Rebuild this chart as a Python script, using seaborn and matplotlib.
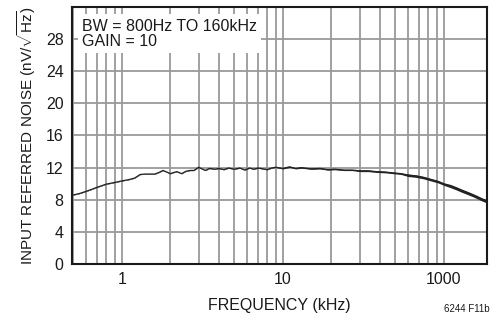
import numpy as np
import pandas as pd
import matplotlib
matplotlib.use("Agg")
import matplotlib.pyplot as plt
import seaborn as sns

sns.set_theme(style="white")
plt.rcParams["font.family"] = ["Liberation Sans Narrow", "Liberation Sans", "DejaVu Sans"]
plt.rcParams["mathtext.fontset"] = "custom"
plt.rcParams["mathtext.rm"] = "Liberation Sans"

# frequency (kHz) and input referred noise (nV/rtHz)
freq = [0.5, 0.55, 0.6, 0.65, 0.7, 0.75, 0.8, 0.85, 0.9, 0.95, 1.0, 1.1, 1.2, 1.3, 1.4,
        1.5, 1.6, 1.7, 1.8, 1.9, 2.0, 2.1, 2.2, 2.35, 2.5, 2.65, 2.8, 3.0, 3.1, 3.3,
        3.5, 3.8, 4.0, 4.3, 4.6, 5.0, 5.4, 5.8, 6.2, 6.6, 7.0, 7.5, 8.0, 8.5, 9.0,
        10, 11, 12, 13, 15, 17, 19, 21, 24, 27, 30, 34, 38, 43, 48, 54, 60, 67, 75,
        83, 92, 100, 110, 120, 130, 140, 150, 160, 172, 185]
noise = [8.6, 8.8, 9.05, 9.3, 9.55, 9.75, 9.95, 10.05, 10.15, 10.25, 10.35, 10.5, 10.7, 11.15, 11.2,
         11.2, 11.2, 11.4, 11.65, 11.45, 11.25, 11.4, 11.5, 11.25, 11.55, 11.65, 11.65, 12.05, 11.9, 11.65,
         11.9, 11.8, 11.9, 11.75, 11.95, 11.8, 11.95, 11.7, 11.95, 11.8, 11.95, 11.85, 11.75, 11.95, 12.05,
         11.9, 12.1, 11.9, 12.0, 11.85, 11.9, 11.75, 11.8, 11.7, 11.7, 11.6, 11.6, 11.5, 11.45, 11.35,
         11.25, 11.05, 10.95, 10.75, 10.5, 10.25, 9.95, 9.7, 9.4, 9.1, 8.85, 8.6, 8.35, 8.05, 7.8]
# half width of the noisy trace
spread = [0.03] * 45 + [0.07] * 10 + [0.1] * 6 + [0.16] * 6 + [0.2] * 8

xticks = [1, 10, 100]
xticklabels = ["1", "10", "1000"]
yticks = [0, 4, 8, 12, 16, 20, 24, 28]

df = pd.DataFrame({"freq": freq, "noise": noise, "spread": spread})

fig = plt.figure(figsize=(4.92, 3.25), dpi=100)
ax = fig.add_axes([0.1463, 0.1877, 0.8435, 0.7908])

ax.set_xscale("log")
ax.set_xlim(0.49, 185)
ax.set_ylim(0, 32)

grid_c = "#9a9a9a"
ax.grid(True, which="both", axis="x", color=grid_c, lw=1.3)
ax.grid(True, which="major", axis="y", color=grid_c, lw=1.3)
ax.set_axisbelow(True)

ax.fill_between(df["freq"], df["noise"] - df["spread"], df["noise"] + df["spread"],
                color="#222222", lw=0)
sns.lineplot(data=df, x="freq", y="noise", ax=ax, color="#222222", lw=0.9)

ax.set_xticks(xticks)
ax.set_xticklabels(xticklabels)
ax.set_yticks(yticks)
ax.tick_params(axis="both", which="both", length=0, labelsize=11.5, pad=6, colors="#1a1a1a")

for s in ax.spines.values():
    s.set_color("#1a1a1a")
    s.set_linewidth(1.5)

ax.set_xlabel("FREQUENCY (kHz)", fontsize=11.5, color="#1a1a1a", labelpad=8)
ax.set_ylabel(r"INPUT REFERRED NOISE (nV/$\sqrt{\mathrm{Hz}}$)", fontsize=11,
              color="#1a1a1a", labelpad=6)

ax.text(0.024, 0.955, "BW = 800Hz TO 160kHz\nGAIN = 10", transform=ax.transAxes,
        fontsize=11.5, va="top", ha="left", color="#1a1a1a", linespacing=1.0,
        bbox=dict(facecolor="white", edgecolor="none", pad=3))

fig.text(0.995, 0.035, "6244 F11b", fontsize=7, ha="right", va="bottom", color="#1a1a1a")

fig.savefig("out.png", dpi=100)
